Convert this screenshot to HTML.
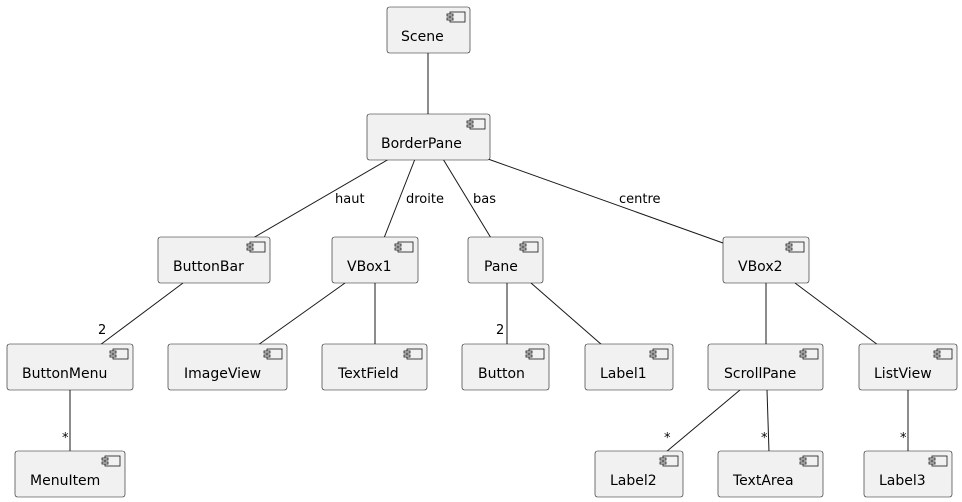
<!DOCTYPE html>
<html><head><meta charset="utf-8"><style>
html,body{margin:0;padding:0;background:#fff;}
svg{display:block;}
text{font-family:"DejaVu Sans","Liberation Sans",sans-serif;fill:#000;}
.n{font-size:14px;}
.e{font-size:13px;}
</style></head><body>
<svg width="962" height="502" viewBox="0 0 962 502" xmlns="http://www.w3.org/2000/svg">
<defs>
<g id="ic">
<rect x="-15" y="0" width="15" height="10" fill="#f1f1f1" stroke="#181818" stroke-width="0.8"/>
<rect x="-18" y="2" width="6" height="2" fill="#f1f1f1" stroke="#181818" stroke-width="0.8"/>
<rect x="-18" y="6" width="6" height="2" fill="#f1f1f1" stroke="#181818" stroke-width="0.8"/>
</g>
</defs>
<g stroke="#181818" stroke-width="1" fill="none">
<line x1="428" y1="53" x2="428" y2="115"/>
<line x1="389" y1="159" x2="253" y2="238"/>
<line x1="415" y1="159" x2="384" y2="238"/>
<line x1="443" y1="159" x2="491" y2="238"/>
<line x1="488" y1="159" x2="723" y2="243"/>
<line x1="183" y1="283" x2="100" y2="345"/>
<line x1="345" y1="283" x2="258" y2="345"/>
<line x1="375" y1="283" x2="375" y2="345"/>
<line x1="507" y1="283" x2="507" y2="345"/>
<line x1="531" y1="283" x2="602" y2="345"/>
<line x1="766" y1="283" x2="766" y2="345"/>
<line x1="795" y1="283" x2="878" y2="345"/>
<line x1="70" y1="390" x2="70" y2="452"/>
<line x1="740" y1="390" x2="666" y2="452"/>
<line x1="767" y1="390" x2="769" y2="452"/>
<line x1="908" y1="390" x2="908" y2="452"/>
</g>
<g class="e">
<text x="335" y="203">haut</text>
<text x="406" y="203">droite</text>
<text x="473" y="203">bas</text>
<text x="619" y="203">centre</text>
<text x="98" y="334">2</text>
<text x="496" y="334">2</text>
<text x="62" y="442">*</text>
<text x="664" y="442">*</text>
<text x="761" y="442">*</text>
<text x="900" y="442">*</text>
</g>
<g fill="#f1f1f1" stroke="#181818" stroke-width="0.6">
<rect x="387" y="7" width="83" height="46" rx="2.5"/>
<rect x="367" y="114" width="123" height="46" rx="2.5"/>
<rect x="158" y="237" width="112" height="46" rx="2.5"/>
<rect x="332" y="237" width="86" height="46" rx="2.5"/>
<rect x="468" y="237" width="75" height="46" rx="2.5"/>
<rect x="723" y="237" width="86" height="46" rx="2.5"/>
<rect x="7" y="344" width="126" height="46" rx="2.5"/>
<rect x="168" y="344" width="119" height="46" rx="2.5"/>
<rect x="322" y="344" width="105" height="46" rx="2.5"/>
<rect x="462" y="344" width="87" height="46" rx="2.5"/>
<rect x="585" y="344" width="88" height="46" rx="2.5"/>
<rect x="708" y="344" width="115" height="46" rx="2.5"/>
<rect x="859" y="344" width="98" height="46" rx="2.5"/>
<rect x="15" y="451" width="110" height="46" rx="2.5"/>
<rect x="595" y="451" width="88" height="46" rx="2.5"/>
<rect x="718" y="451" width="105" height="46" rx="2.5"/>
<rect x="864" y="451" width="88" height="46" rx="2.5"/>
</g>
<use href="#ic" x="465" y="12"/>
<use href="#ic" x="485" y="119"/>
<use href="#ic" x="265" y="242"/>
<use href="#ic" x="413" y="242"/>
<use href="#ic" x="538" y="242"/>
<use href="#ic" x="804" y="242"/>
<use href="#ic" x="128" y="349"/>
<use href="#ic" x="282" y="349"/>
<use href="#ic" x="422" y="349"/>
<use href="#ic" x="544" y="349"/>
<use href="#ic" x="668" y="349"/>
<use href="#ic" x="818" y="349"/>
<use href="#ic" x="952" y="349"/>
<use href="#ic" x="120" y="456"/>
<use href="#ic" x="678" y="456"/>
<use href="#ic" x="818" y="456"/>
<use href="#ic" x="947" y="456"/>
<g class="n">
<text x="401" y="41">Scene</text>
<text x="381" y="148">BorderPane</text>
<text x="173" y="271">ButtonBar</text>
<text x="347" y="271">VBox1</text>
<text x="484" y="271">Pane</text>
<text x="738" y="271">VBox2</text>
<text x="22" y="378">ButtonMenu</text>
<text x="184" y="378">ImageView</text>
<text x="338" y="378">TextField</text>
<text x="478" y="378">Button</text>
<text x="600" y="378">Label1</text>
<text x="724" y="378">ScrollPane</text>
<text x="874" y="378">ListView</text>
<text x="30" y="485">MenuItem</text>
<text x="610" y="485">Label2</text>
<text x="733" y="485">TextArea</text>
<text x="879" y="485">Label3</text>
</g>
</svg>
</body></html>
